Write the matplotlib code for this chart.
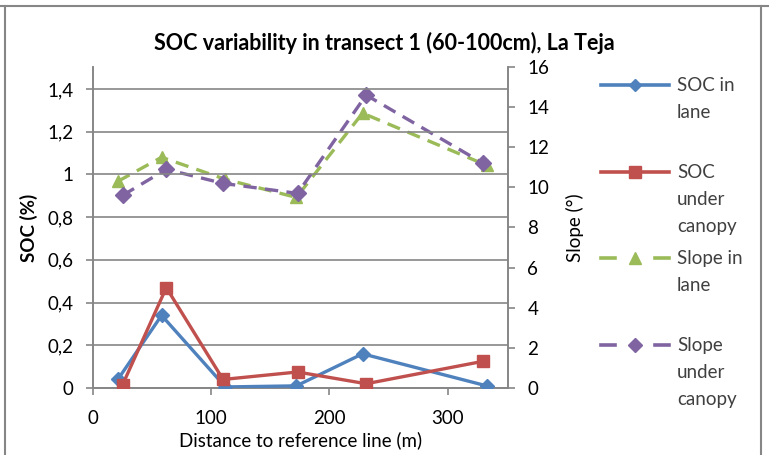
import matplotlib
matplotlib.use('Agg')
import matplotlib.pyplot as plt
from matplotlib.lines import Line2D
from matplotlib.ticker import FuncFormatter, MultipleLocator

plt.rcParams['font.family'] = ['Lato', 'DejaVu Sans']

# data
x_lane = [21, 58, 112, 172, 228, 333]
x_canopy = [25, 62, 110, 173, 231, 330]
soc_lane = [0.04, 0.34, 0.005, 0.01, 0.16, 0.01]
soc_canopy = [0.015, 0.47, 0.04, 0.075, 0.02, 0.125]
slope_lane = [10.3, 11.5, 10.4, 9.5, 13.7, 11.1]
slope_canopy = [9.6, 10.9, 10.2, 9.7, 14.6, 11.2]

names = ['SOC in\nlane', 'SOC\nunder\ncanopy', 'Slope in\nlane', 'Slope\nunder\ncanopy']
blue = '#4F81BD'
red = '#C0504D'
green = '#9BBB59'
purple = '#8064A2'
grey = '#868686'
fs = 13.5

fig = plt.figure(figsize=(7.69, 4.55), dpi=100)
ax = fig.add_axes([93/769, 1-388/455, (508-93)/769, (388-67)/455])
ax2 = ax.twinx()

ax.plot(x_lane, soc_lane, color=blue, lw=2.4, marker='D', ms=7, zorder=3)
ax.plot(x_canopy, soc_canopy, color=red, lw=2.4, marker='s', ms=8.5, zorder=3)
ax2.plot(x_lane, slope_lane, color=green, lw=2.4, ls=(0, (4, 2.5)), marker='^', ms=9)
ax2.plot(x_canopy, slope_canopy, color=purple, lw=2.4, ls=(0, (4, 2.5)), marker='D', ms=8)

ax.set_xlim(0, 351)
ax.set_ylim(0, 1.503)
ax2.set_ylim(0, 16)
ax.xaxis.set_major_locator(MultipleLocator(100))
ax2.yaxis.set_major_locator(MultipleLocator(2))
ax.yaxis.set_major_formatter(FuncFormatter(lambda v, p: ('%g' % round(v, 1)).replace('.', ',')))
ax.set_yticks([0, 0.2, 0.4, 0.6, 0.8, 1.0, 1.2, 1.4])

ax.grid(axis='y', color=grey, lw=1.2)
ax.set_axisbelow(True)
for a in (ax, ax2):
    a.spines['top'].set_visible(False)
    for s in ('left', 'right', 'bottom'):
        a.spines[s].set_color(grey)
        a.spines[s].set_linewidth(1.2)
    a.tick_params(colors=grey, labelcolor='black', labelsize=fs, length=5, width=1.2, pad=9)
ax.tick_params(axis='x', pad=11)
ax.set_zorder(ax2.get_zorder() + 1)
ax.patch.set_visible(False)

fig.text(0.5, 1-43/455, 'SOC variability in transect 1 (60-100cm), La Teja',
         ha='center', va='center', fontsize=15.5, fontweight='bold')
ax.set_ylabel('SOC (%)', fontsize=fs, fontweight='bold', labelpad=7)
ax2.set_ylabel('Slope (°)', fontsize=fs, labelpad=12)
ax.set_xlabel('Distance to reference line (m)', fontsize=fs, labelpad=3)

# legend drawn by hand so the handle sits on the first text line
styles = [(blue, True, 'D', 6), (red, True, 's', 8.5), (green, False, '^', 8), (purple, False, 'D', 7)]
ys = [85, 172, 258, 345]
for (c, solid, m, ms), y, name in zip(styles, ys, names):
    fy = 1 - y/455
    if solid:
        fig.add_artist(Line2D([601/769, 669/769], [fy, fy], color=c, lw=2.6))
    else:
        fig.add_artist(Line2D([601/769, 615/769], [fy, fy], color=c, lw=2.6))
        fig.add_artist(Line2D([655/769, 669/769], [fy, fy], color=c, lw=2.6))
    fig.add_artist(Line2D([635/769], [fy], color=c, marker=m, ms=ms))
    fig.text(677/769, fy + 8/455, name, ha='left', va='top', fontsize=fs,
             color='#404040', linespacing=1.7)

# frame of the surrounding table
fig.add_artist(Line2D([0, 1], [1-6/455, 1-6/455], color=grey, lw=1.5))
fig.add_artist(Line2D([5/769, 5/769], [0, 1-6/455], color=grey, lw=1.5))
fig.add_artist(Line2D([761/769, 761/769], [0, 1-6/455], color=grey, lw=1.5))

fig.savefig('out.png', dpi=100)
